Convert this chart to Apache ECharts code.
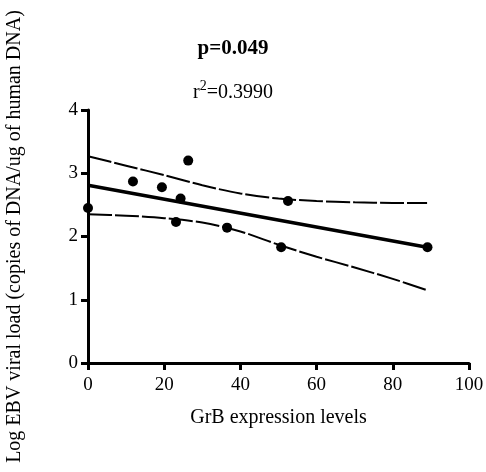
<!DOCTYPE html>
<html>
<head>
<meta charset="utf-8">
<style>
  html, body { margin: 0; padding: 0; background: #fff; }
  #chart { width: 486px; height: 472px; }
</style>
<script src="https://cdn.jsdelivr.net/npm/echarts@6/dist/echarts.min.js"></script>
</head>
<body>
<div id="chart"></div>
<script>
  // scatter values
  const grbLevels = [0, 11.8, 19.4, 26.3, 24.3, 23.1, 36.5, 52.5, 50.7, 89.1];
  const ebvLoad = [2.45, 2.87, 2.78, 3.2, 2.6, 2.23, 2.14, 2.56, 1.83, 1.83];

  // fitted line and 95% band
  const fitX = [0, 89];
  const fitY = [2.81, 1.83];
  const bandX = [0, 10, 20, 30, 40, 50, 60, 70, 80, 89];
  const upperY = [3.27, 3.12, 2.97, 2.81, 2.68, 2.6, 2.56, 2.54, 2.53, 2.53];
  const lowerY = [2.35, 2.33, 2.29, 2.22, 2.08, 1.87, 1.68, 1.51, 1.33, 1.15];

  const xTicks = { min: 0, max: 100, interval: 20 };
  const yTicks = { min: 0, max: 4, interval: 1 };

  const font = "Liberation Serif";
  const chart = echarts.init(document.getElementById("chart"));

  function pairs(xs, ys) {
    return xs.map((x, i) => [x, ys[i]]);
  }

  const dashed = {
    color: "#000",
    width: 2,
    type: [24, 3],
  };

  chart.setOption({
    animation: false,
    backgroundColor: "#fff",
    textStyle: { fontFamily: font, color: "#000" },
    title: [
      {
        text: "p=0.049",
        left: 228,
        top: 33,
        textAlign: "center",
        textStyle: { fontFamily: font, fontSize: 21, fontWeight: "bold", color: "#000" },
      },
      {
        text: "{b|r}{s|2}{b|=0.3990}",
        left: 228,
        top: 74,
        textAlign: "center",
        textStyle: {
          fontWeight: "normal",
          rich: {
            b: { fontFamily: font, fontSize: 20, fontWeight: "normal", color: "#000", lineHeight: 24, verticalAlign: "bottom" },
            s: { fontFamily: font, fontSize: 14, fontWeight: "normal", color: "#000", lineHeight: 24, verticalAlign: "top" },
          },
        },
      },
    ],
    grid: { left: 88, right: 17, top: 110, bottom: 109, outerBoundsMode: "none" },
    xAxis: {
      type: "value",
      min: xTicks.min,
      max: xTicks.max,
      interval: xTicks.interval,
      name: "GrB expression levels",
      nameLocation: "middle",
      nameGap: 45,
      nameTextStyle: { fontFamily: font, fontSize: 20, color: "#000" },
      axisLine: { lineStyle: { color: "#000", width: 3 } },
      axisTick: { length: 7, lineStyle: { color: "#000", width: 3 } },
      axisLabel: { fontFamily: font, fontSize: 19, color: "#000", margin: 13 },
      splitLine: { show: false },
    },
    yAxis: {
      type: "value",
      min: yTicks.min,
      max: yTicks.max,
      interval: yTicks.interval,
      name: "Log EBV viral load (copies of DNA/ug of human DNA)",
      nameLocation: "middle",
      nameGap: 63,
      nameTextStyle: { fontFamily: font, fontSize: 20, color: "#000" },
      axisLine: { lineStyle: { color: "#000", width: 3 } },
      axisTick: { length: 7, lineStyle: { color: "#000", width: 3 } },
      axisLabel: { fontFamily: font, fontSize: 19, color: "#000", margin: 10 },
      splitLine: { show: false },
    },
    series: [
      {
        type: "line",
        data: pairs(bandX, upperY),
        smooth: 0.3,
        symbol: "none",
        lineStyle: dashed,
      },
      {
        type: "line",
        data: pairs(bandX, lowerY),
        smooth: 0.3,
        symbol: "none",
        lineStyle: dashed,
      },
      {
        type: "line",
        data: pairs(fitX, fitY),
        symbol: "none",
        lineStyle: { color: "#000", width: 3.5 },
      },
      {
        type: "scatter",
        data: pairs(grbLevels, ebvLoad),
        symbol: "circle",
        symbolSize: 10,
        itemStyle: { color: "#000", opacity: 1 },
        z: 5,
      },
    ],
  });

  window.addEventListener("resize", function () {
    chart.resize();
  });
</script>
</body>
</html>
